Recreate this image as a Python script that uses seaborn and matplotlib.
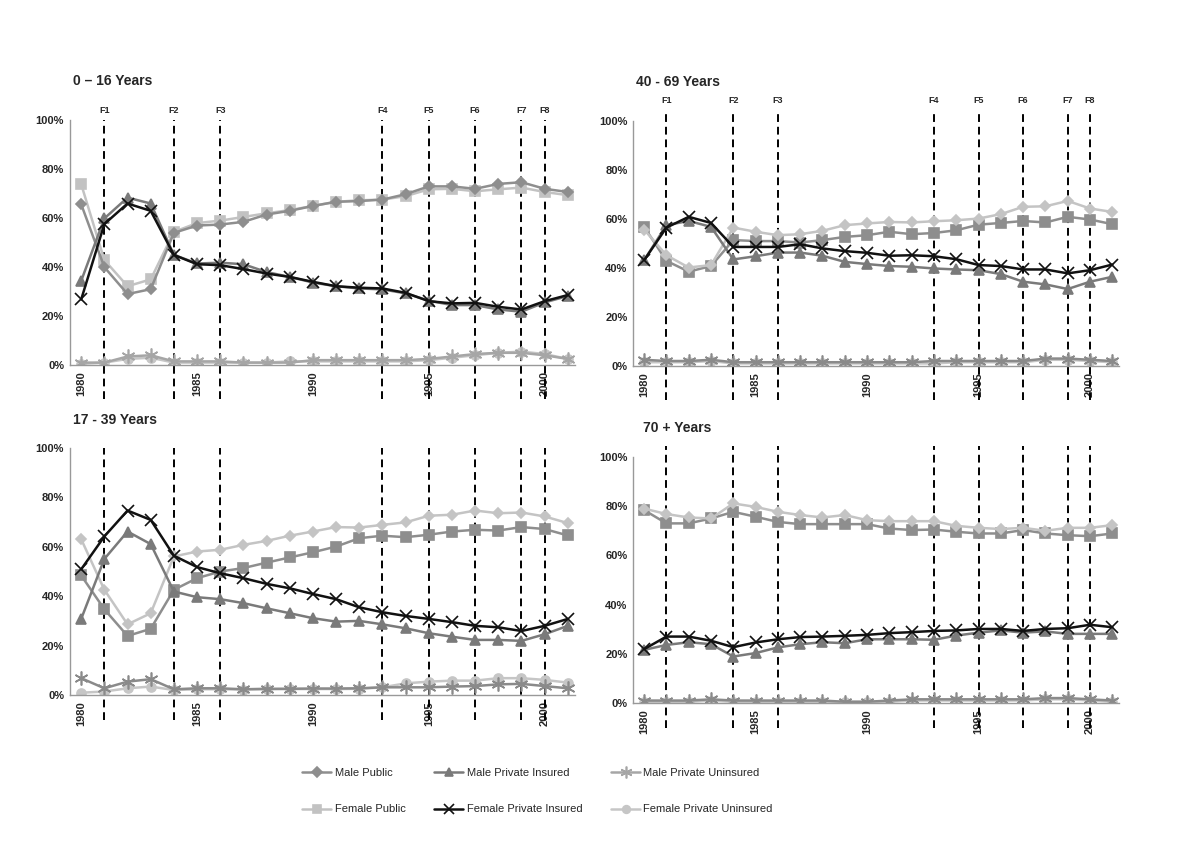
import numpy as np
import pandas as pd
import matplotlib
matplotlib.use('Agg')
import matplotlib.pyplot as plt
import seaborn as sns

years = list(range(1980, 2002))
series_names = ['Male Public', 'Female Public', 'Male Private Insured',
                'Female Private Insured', 'Male Private Uninsured', 'Female Private Uninsured']
policy_years = [1981, 1984, 1986, 1993, 1995, 1997, 1999, 2000]
policy_labels = ['F1', 'F2', 'F3', 'F4', 'F5', 'F6', 'F7', 'F8']

# 0 - 16 years
m_pub_0 = [65.7, 40, 29, 31, 54, 57, 57.4, 58.5, 61.5, 63, 65, 66.7, 67, 67.6, 69.8, 73, 73, 72, 74, 74.7, 72, 70.7]
f_pub_0 = [73.9, 42.9, 32.2, 35, 54.4, 58, 59, 60.5, 62, 63.3, 65, 66.7, 67.3, 67.6, 69, 71.8, 72, 71, 71.8, 72.5, 70.7, 69.4]
m_ins_0 = [34.4, 59.9, 68.4, 66, 45, 41.5, 41.8, 41.2, 38, 36, 33.7, 32.2, 31.3, 30.9, 29.3, 26.3, 24.5, 24.5, 22.7, 21.8, 25.6, 28.2]
f_ins_0 = [26.8, 57.6, 66, 63, 45, 41.2, 40.8, 39.2, 37.4, 36, 34, 32.2, 31.6, 31.3, 29.5, 26.1, 25.2, 25.4, 23.8, 22.7, 26.1, 28.6]
m_unins_0 = [1, 1, 3.5, 4, 1.5, 1.5, 1.5, 1, 1, 1, 2, 2, 2, 2, 2, 2.5, 3.5, 4.5, 5, 5, 4, 2.5]
f_unins_0 = [0.5, 1, 2.5, 3, 1, 1, 1, 1, 1, 1.5, 1.5, 1.5, 1.5, 1.5, 1.5, 2, 3, 4, 5, 5.5, 4.5, 2.5]

# 17 - 39 years
m_pub_17 = [63.1, 42.6, 28.6, 33.1, 56.1, 58.1, 58.8, 60.8, 62.4, 64.5, 66.2, 68, 67.8, 68.9, 69.9, 72.6, 73, 74.7, 73.6, 73.9, 72.3, 69.6]
f_pub_17 = [48.4, 34.7, 23.9, 26.8, 42.6, 47.3, 50, 51.4, 53.6, 55.7, 57.8, 60.1, 63.5, 64.5, 63.9, 64.9, 66.2, 66.9, 66.6, 68, 67.2, 64.6]
m_ins_17 = [30.8, 55.1, 66.2, 61.1, 41.9, 39.6, 38.8, 37.2, 35.1, 33.1, 31.1, 29.7, 30, 28.6, 27, 25, 23.6, 22.3, 22.3, 21.9, 24.6, 28]
f_ins_17 = [50.9, 64.2, 74.7, 70.9, 56.4, 51.8, 49.3, 47.3, 45, 43.2, 40.9, 38.8, 35.5, 33.5, 32, 30.8, 29.5, 28, 27.4, 25.9, 28, 30.8]
m_unins_17 = [6.8, 2.7, 5.4, 6.4, 2.3, 2.7, 2.7, 2.3, 2.5, 2.5, 2.6, 2.6, 2.7, 3.1, 3.1, 3.1, 3.4, 3.6, 4.3, 4.5, 3.6, 2.7]
f_unins_17 = [0.9, 1.4, 2.7, 3.4, 2, 2.3, 2.3, 2.2, 2.3, 2.4, 2.4, 2.4, 2.5, 3.1, 4.7, 5.4, 5.8, 5.8, 6.8, 6.8, 6.1, 5]

# 40 - 69 years
m_pub_40 = [55.7, 45.2, 40.2, 41.2, 56.5, 54.8, 53.4, 53.8, 55.2, 57.5, 58.2, 58.8, 58.6, 59.1, 59.5, 60.2, 62, 65, 65.2, 67.4, 64.3, 62.9]
f_pub_40 = [56.8, 42.9, 38.5, 40.8, 51.4, 51, 51, 50.4, 51.4, 52.7, 53.4, 54.8, 53.8, 54.3, 55.4, 57.7, 58.4, 59.2, 58.6, 60.9, 59.8, 57.9]
m_ins_40 = [43.2, 57.5, 59.2, 56.8, 43.5, 44.8, 46.3, 46.3, 45, 42.5, 41.6, 40.8, 40.5, 39.8, 39.4, 39.1, 37.5, 34.4, 33.3, 31.4, 34.4, 36.4]
f_ins_40 = [43.2, 56.5, 60.9, 58.4, 48.6, 48.6, 48.6, 49.7, 48, 46.9, 46.2, 45, 45.2, 44.8, 43.6, 41.2, 40.8, 39.4, 39.4, 37.8, 39.1, 41.4]
m_unins_40 = [2.5, 2, 2, 2.5, 1.5, 1.5, 1.5, 1.5, 1.5, 1.5, 1.5, 1.5, 1.5, 2, 2, 2, 2, 2, 3, 3, 2.5, 2]
f_unins_40 = [1.5, 1.5, 1.5, 2, 1, 1, 1, 1, 1, 1, 1, 1, 1, 1, 1.5, 1.5, 1.5, 1.5, 2.5, 2.5, 2, 1.5]

# 70 + years
m_pub_70 = [79, 76.8, 75.4, 75, 81.1, 79.7, 77.7, 76.4, 75.4, 76.4, 74.3, 73.9, 73.9, 73.9, 72, 71.2, 70.7, 71.2, 70, 71.2, 71.2, 72.3]
f_pub_70 = [78.4, 73, 73, 75, 77.7, 75.7, 73.6, 72.7, 72.7, 72.7, 72.7, 70.9, 70.3, 70.5, 69.6, 68.9, 68.9, 70.3, 68.9, 68.2, 67.8, 68.9]
m_ins_70 = [21.6, 23.6, 24.7, 23.9, 18.9, 20.3, 22.6, 23.9, 24.7, 24.3, 25.9, 25.9, 25.9, 25.7, 27.4, 28.6, 29.5, 28.6, 29.1, 28.1, 28.1, 28.1]
f_ins_70 = [21.9, 27, 27, 25.3, 22.7, 24.6, 25.9, 26.8, 27, 27.3, 27.7, 28.4, 28.8, 29.3, 29.5, 30.1, 30.1, 29.3, 30.1, 30.4, 31.8, 30.8]
m_unins_70 = [1, 1, 1, 1.5, 1, 1, 1, 1, 1, 0.5, 0.5, 1, 1.5, 1.5, 1.5, 1.5, 1.5, 1.5, 2, 2, 1.5, 1]
f_unins_70 = [0.5, 0.5, 0.5, 1, 0.5, 0.5, 0.5, 0.5, 0.5, 0.5, 0.5, 0.5, 1, 1, 1, 1, 1, 1, 1.5, 1.5, 1, 0.5]

panels = {
    '0 – 16 Years': [m_pub_0, f_pub_0, m_ins_0, f_ins_0, m_unins_0, f_unins_0],
    '40 - 69 Years': [m_pub_40, f_pub_40, m_ins_40, f_ins_40, m_unins_40, f_unins_40],
    '17 - 39 Years': [m_pub_17, f_pub_17, m_ins_17, f_ins_17, m_unins_17, f_unins_17],
    '70 + Years': [m_pub_70, f_pub_70, m_ins_70, f_ins_70, m_unins_70, f_unins_70],
}

sns.set_style('white')
plt.rcParams['font.family'] = ['Liberation Sans', 'DejaVu Sans']

asterisk = (6, 2, 0)
markers = {'Male Public': 'D', 'Female Public': 's', 'Male Private Insured': '^',
           'Female Private Insured': 'x', 'Male Private Uninsured': asterisk,
           'Female Private Uninsured': 'o'}
msizes = {'Male Public': 5.5, 'Female Public': 7, 'Male Private Insured': 7,
          'Female Private Insured': 9, 'Male Private Uninsured': 10, 'Female Private Uninsured': 6.5}
pal_first = {'Male Public': '#8e8e8e', 'Female Public': '#c2c2c2', 'Male Private Insured': '#7a7a7a',
             'Female Private Insured': '#111111', 'Male Private Uninsured': '#a6a6a6',
             'Female Private Uninsured': '#c6c6c6'}
pal_other = dict(pal_first)
pal_other['Male Public'] = '#c4c4c4'
pal_other['Female Public'] = '#8e8e8e'
pal_other['Male Private Uninsured'] = '#8a8a8a'
draw_order = ['Female Private Uninsured', 'Male Private Uninsured', 'Female Public',
              'Male Public', 'Male Private Insured', 'Female Private Insured']

fig = plt.figure(figsize=(12, 8.47), dpi=100)
boxes = {
    '0 – 16 Years': [0.058, 0.569, 0.421, 0.289],
    '40 - 69 Years': [0.5275, 0.568, 0.405, 0.289],
    '17 - 39 Years': [0.058, 0.1795, 0.421, 0.2915],
    '70 + Years': [0.5275, 0.170, 0.405, 0.2905],
}
title_pos = {'0 – 16 Years': (0.061, 0.904), '40 - 69 Years': (0.530, 0.903),
             '17 - 39 Years': (0.061, 0.504), '70 + Years': (0.536, 0.495)}

leg_handles = {}
for i, (name, vals) in enumerate(panels.items()):
    ax = fig.add_axes(boxes[name])
    data = dict(zip(series_names, vals))
    pal = pal_first if i == 0 else pal_other
    for s in draw_order:
        sns.lineplot(x=years, y=data[s], color=pal[s], marker=markers[s],
                     markersize=msizes[s], markeredgewidth=1.2, markeredgecolor=pal[s],
                     linewidth=1.8, label=s, ax=ax)
    if i == 0:
        h, l = ax.get_legend_handles_labels()
        leg_handles = dict(zip(l, h))
    ax.get_legend().remove()

    ax.set_xlim(1979.5, 2001.3)
    ax.set_ylim(0, 100)
    ax.set_yticks([0, 20, 40, 60, 80, 100])
    ax.set_yticklabels([f'{v}%' for v in range(0, 101, 20)], fontsize=8, fontweight='bold')
    ax.set_xticks([1980, 1985, 1990, 1995, 2000])
    ax.set_xticklabels(['1980', '1985', '1990', '1995', '2000'], rotation=90,
                       fontsize=8, fontweight='bold')
    ax.set_xticks(years, minor=True)
    ax.tick_params(axis='y', which='major', length=3, color='#888888', pad=1)
    ax.tick_params(axis='x', which='both', direction='inout', length=5, color='#888888', pad=2)
    ax.set_xlabel('')
    ax.set_ylabel('')
    for s in ['top', 'right']:
        ax.spines[s].set_visible(False)
    for s in ['left', 'bottom']:
        ax.spines[s].set_color('#999999')
        ax.spines[s].set_linewidth(1)

    top = 1.0 if i in (0, 2) else 1.045
    bottom = -0.14 if i < 2 else -0.10
    for yr, lab in zip(policy_years, policy_labels):
        ax.axvline(yr, ymin=bottom, ymax=top, color='black', linestyle=(0, (4, 2.5)),
                   linewidth=1.4, clip_on=False, zorder=1)
        if i < 2:
            ax.text(yr, 1.02 if i == 0 else 1.065, lab, transform=ax.get_xaxis_transform(),
                    ha='center', va='bottom', fontsize=6.5, fontweight='bold')
    fig.text(*title_pos[name], name, fontsize=10, fontweight='bold', ha='left', va='center')

fig.legend([leg_handles[n] for n in series_names], series_names, loc='center',
           bbox_to_anchor=(0.448, 0.066), ncol=3, frameon=False, fontsize=8,
           handlelength=2.6, handletextpad=0.3, columnspacing=2.6, labelspacing=2.4,
           markerscale=0.85)

fig.savefig('out.png', dpi=100)
